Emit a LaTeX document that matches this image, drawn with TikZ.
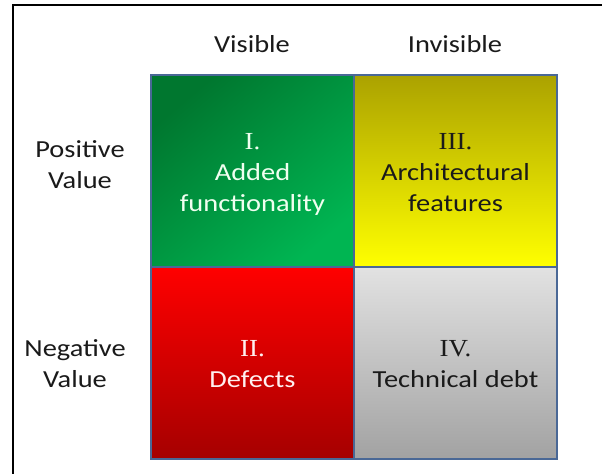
\documentclass[tikz,border=0pt]{standalone}
\usepackage{fontspec}
\setmainfont[FakeStretch=1.16]{Carlito}
\newfontfamily\numfont[FakeStretch=1.1]{Liberation Serif}
\definecolor{cellborder}{HTML}{4A6896}
\definecolor{txt}{HTML}{1A1A1A}
\definecolor{gA}{HTML}{00772F}
\definecolor{gB}{HTML}{00B552}
\definecolor{yA}{HTML}{ABA200}
\definecolor{yB}{HTML}{FFFF00}
\definecolor{rA}{HTML}{FF0000}
\definecolor{rB}{HTML}{A50000}
\definecolor{kA}{HTML}{E2E2E2}
\definecolor{kB}{HTML}{A2A2A2}
\tikzset{
  cell/.style={rectangle, draw=cellborder, line width=2pt, minimum width=203pt,
    minimum height=192pt, inner sep=0pt},
  lbl/.style={text=txt, align=center, inner sep=0pt, font=\fontsize{24.5}{31}\selectfont},
}
\begin{document}
\begin{tikzpicture}[x=1pt,y=-1pt]
\useasboundingbox (0,0) rectangle (602,474);
\fill[white] (0,0) rectangle (602,474);
\draw[black, line width=1.5pt] (602,5) -- (13,5) -- (13,474);
\node[cell, top color=gA, bottom color=gB, shading angle=40] (c1) at (252.5,171) {};
\node[cell, top color=yA, bottom color=yB] (c3) at (455.5,171) {};
\node[cell, top color=rA, bottom color=rB] (c2) at (252.5,363) {};
\node[cell, top color=kA, bottom color=kB] (c4) at (455.5,363) {};
\node[lbl, text=white!94!green] (t1) at ([yshift=-3pt]c1.center) {{\numfont I.}\\Added\\functionality};
\node[lbl] (t3) at ([yshift=-1.5pt]c3.center) {{\numfont III.}\\Architectural\\features};
\node[lbl, text=white!94!red] (t2) at ([yshift=-1pt]c2.center) {{\numfont II.}\\Defects};
\node[lbl] (t4) at ([yshift=-1pt]c4.center) {{\numfont IV.}\\Technical debt};
\node[lbl, anchor=base] (hv) at (252,52) {Visible};
\node[lbl, anchor=base] (hi) at (455,52) {Invisible};
\node[lbl] (pv) at (80,165) {Positive\\Value};
\node[lbl] (nv) at (75,364) {Negative\\Value};
\end{tikzpicture}
\end{document}
